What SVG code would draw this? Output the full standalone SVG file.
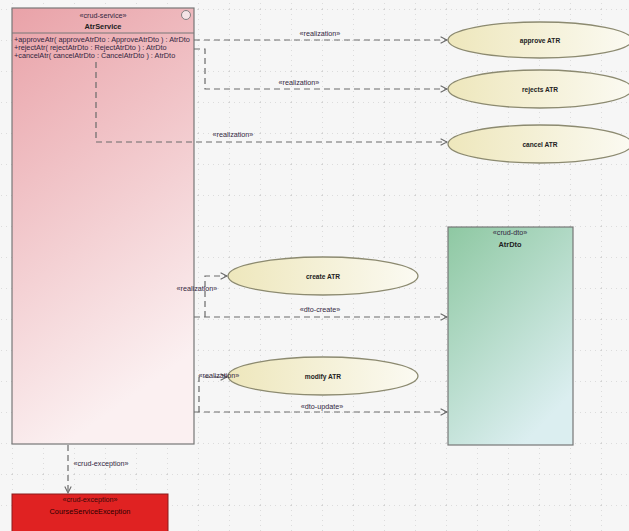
<svg xmlns="http://www.w3.org/2000/svg" width="629" height="531" viewBox="0 0 629 531">
  <defs>
    <pattern id="grid" x="12" y="9" width="31" height="31" patternUnits="userSpaceOnUse">
      <line x1="0" y1="0" x2="31" y2="0" stroke="#c2c2c2" stroke-width="1" stroke-dasharray="1,4"/>
      <line x1="0" y1="0" x2="0" y2="31" stroke="#c2c2c2" stroke-width="1" stroke-dasharray="1,4"/>
    </pattern>
    <linearGradient id="svcFill" x1="0" y1="0" x2="0.3" y2="1">
      <stop offset="0" stop-color="#e9a2a8"/>
      <stop offset="1" stop-color="#fbf0f1"/>
    </linearGradient>
    <linearGradient id="dtoFill" x1="0" y1="0" x2="0.6" y2="1">
      <stop offset="0" stop-color="#8ec8a2"/>
      <stop offset="1" stop-color="#dbeef0"/>
    </linearGradient>
    <linearGradient id="ucFill" x1="0" y1="0" x2="1" y2="0">
      <stop offset="0" stop-color="#eee7bc"/>
      <stop offset="1" stop-color="#fbfaf2"/>
    </linearGradient>
    <marker id="open" viewBox="0 0 10 10" refX="9" refY="5" markerWidth="8" markerHeight="8" markerUnits="userSpaceOnUse" orient="auto">
      <path d="M1,1 L9,5 L1,9" fill="none" stroke="#666" stroke-width="1.3"/>
    </marker>
    <style>
      .box { stroke: #777; stroke-width: 1.2; }
      .uc { fill: url(#ucFill); stroke: #8c8a70; stroke-width: 1.3; }
      .dash { fill: none; stroke: #6a6a6a; stroke-width: 1.2; stroke-dasharray: 6,4; }
      .nm { font-family: "Liberation Sans", Arial, sans-serif; font-size: 6.6px; font-weight: bold; fill: #222; text-anchor: middle; }
      .cn { font-family: "Liberation Sans", Arial, sans-serif; font-size: 7.4px; font-weight: bold; fill: #222; text-anchor: middle; }
      .op { font-family: "Liberation Sans", Arial, sans-serif; font-size: 7.3px; fill: #32263f; }
      .lbl { font-family: "Liberation Sans", Arial, sans-serif; font-size: 7.2px; fill: #32263f; text-anchor: middle; }
    </style>
  </defs>

  <rect x="0" y="0" width="629" height="531" fill="#f6f6f6"/>
  <rect x="0" y="0" width="629" height="531" fill="url(#grid)"/>

  <!-- service component -->
  <g id="AtrService">
    <rect class="box" x="12" y="8" width="182" height="436" fill="url(#svcFill)"/>
    <circle cx="186" cy="15" r="4.5" fill="#f4e4e6" stroke="#777" stroke-width="0.9"/>
    <text class="lbl" x="103" y="18">«crud-service»</text>
    <text class="cn" x="103" y="28.5">AtrService</text>
    <line x1="12" y1="33" x2="194" y2="33" stroke="#777" stroke-width="1"/>
    <text class="op" x="14" y="42">+approveAtr( approveAtrDto : ApproveAtrDto ) : AtrDto</text>
    <text class="op" x="14" y="50">+rejectAtr( rejectAtrDto : RejectAtrDto ) : AtrDto</text>
    <text class="op" x="14" y="58">+cancelAtr( cancelAtrDto : CancelAtrDto ) : AtrDto</text>
  </g>

  <!-- use cases -->
  <g id="approveATR">
    <ellipse class="uc" cx="540" cy="40" rx="92" ry="18"/>
    <text class="nm" x="540" y="42.5">approve ATR</text>
  </g>
  <g id="rejectsATR">
    <ellipse class="uc" cx="540" cy="89" rx="92" ry="19"/>
    <text class="nm" x="540" y="91.5">rejects ATR</text>
  </g>
  <g id="cancelATR">
    <ellipse class="uc" cx="540" cy="144" rx="92" ry="19"/>
    <text class="nm" x="540" y="146.5">cancel ATR</text>
  </g>
  <g id="createATR">
    <ellipse class="uc" cx="323" cy="276" rx="95" ry="19"/>
    <text class="nm" x="323" y="278.5">create ATR</text>
  </g>
  <g id="modifyATR">
    <ellipse class="uc" cx="323" cy="376" rx="95" ry="19"/>
    <text class="nm" x="323" y="378.5">modify ATR</text>
  </g>

  <!-- dto class -->
  <g id="AtrDto">
    <rect class="box" x="448" y="227" width="125" height="218" fill="url(#dtoFill)"/>
    <text class="lbl" x="510" y="235">«crud-dto»</text>
    <text class="cn" x="510" y="246.5">AtrDto</text>
  </g>

  <!-- exception class -->
  <g id="CourseServiceException">
    <rect x="12" y="494" width="156" height="40" fill="#e02222" stroke="#8a1a1a" stroke-width="1"/>
    <text class="lbl" x="90" y="502" style="fill:#3a0808">«crud-exception»</text>
    <text class="cn" x="90" y="513.5" style="font-weight:normal;fill:#2a0000">CourseServiceException</text>
  </g>

  <!-- connectors -->
  <g id="connectors">
    <path class="dash" d="M194,40 H447" marker-end="url(#open)"/>
    <text class="lbl" x="320" y="36">«realization»</text>

    <path class="dash" d="M194,49 H205 V89 H447" marker-end="url(#open)"/>
    <text class="lbl" x="299" y="85">«realization»</text>

    <path class="dash" d="M96,62 V142 H447" marker-end="url(#open)"/>
    <text class="lbl" x="233" y="137">«realization»</text>

    <path class="dash" d="M205,317 V276 H227" marker-end="url(#open)"/>
    <text class="lbl" x="197" y="291">«realization»</text>
    <path class="dash" d="M194,317 H447" marker-end="url(#open)"/>
    <text class="lbl" x="320" y="312">«dto-create»</text>

    <path class="dash" d="M199,412 V377 H227" marker-end="url(#open)"/>
    <text class="lbl" x="219" y="378">«realization»</text>
    <path class="dash" d="M194,412 H447" marker-end="url(#open)"/>
    <text class="lbl" x="322" y="409">«dto-update»</text>

    <path class="dash" d="M68,445 V493" marker-end="url(#open)"/>
    <text class="lbl" x="101" y="466">«crud-exception»</text>
  </g>
</svg>
